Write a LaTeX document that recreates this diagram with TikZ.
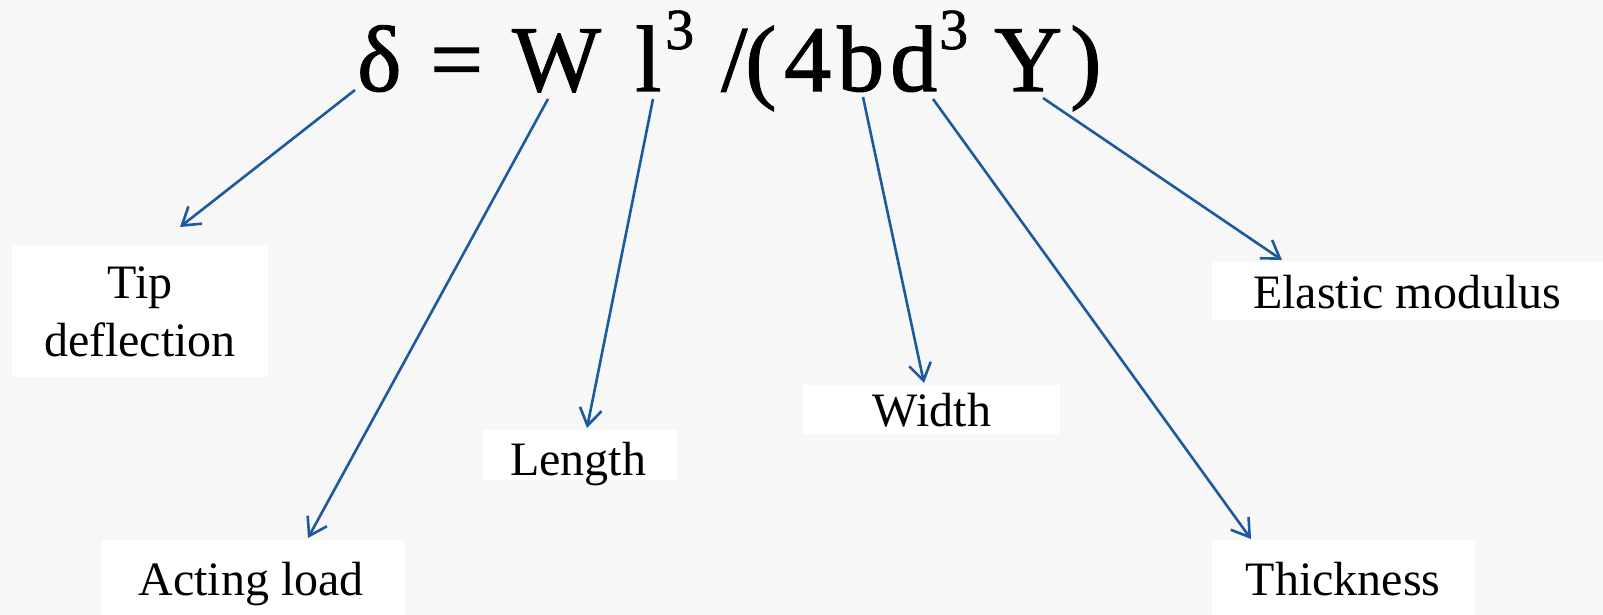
\documentclass[tikz,border=0pt]{standalone}
\usepackage{fontspec}
\setmainfont{Liberation Serif}
\newfontfamily\formfont[FakeBold=1.2]{Liberation Serif}
\usetikzlibrary{arrows.meta}
\definecolor{arrowblue}{RGB}{28,89,157}
\definecolor{bggray}{RGB}{247,247,247}
\begin{document}
\begin{tikzpicture}[x=1pt,y=-1pt,
  sym/.style={anchor=base west, inner sep=0pt, font=\formfont\fontsize{94}{94}\selectfont},
  supnum/.style={anchor=base west, inner sep=0pt, font=\formfont\fontsize{58}{58}\selectfont},
  lbl/.style={anchor=base, inner sep=0pt, font=\fontsize{48}{58}\selectfont},
  whitebox/.style={fill=white},
  arr/.style={draw=arrowblue, line width=2.6pt, -{Straight Barb[length=17pt,width=22pt]}}]
\useasboundingbox (0,0) rectangle (1603,615);
\fill[bggray] (0,0) rectangle (1603,615);

% label boxes
\fill[whitebox] (12,245) rectangle (268,377);
\fill[whitebox] (1212,262) rectangle (1603,320);
\fill[whitebox] (803,385) rectangle (1060,434);
\fill[whitebox] (483,430) rectangle (677,480);
\fill[whitebox] (102,540) rectangle (405,615);
\fill[whitebox] (1212,540) rectangle (1475,615);

% formula
\node[sym] (delta) at (357,91) {δ};
\node[sym] (eq) at (430,91) {=};
\node[sym] (W) at (512,91) {W};
\node[sym] (l) at (635,91) {l};
\node[supnum] (s1) at (665,49) {3};
\node[sym] (slash) at (721,91) {/};
\node[sym] (lpar) at (745,91) {(};
\node[sym] (four) at (784,91) {4};
\node[sym] (b) at (837,91) {b};
\node[sym] (d) at (890,91) {d};
\node[supnum] (s2) at (939,49) {3};
\node[sym] (Y) at (994,91) {Y};
\node[sym] (rpar) at (1070,91) {)};

% labels
\node[lbl] (tip1) at (140,298) {Tip};
\node[lbl] (tip2) at (140,356) {deflection};
\node[lbl] (elastic) at (1407,308) {Elastic modulus};
\node[lbl] (width) at (932,426) {Width};
\node[lbl] (length) at (578,475) {Length};
\node[lbl] (acting) at (251,595) {Acting load};
\node[lbl] (thick) at (1343,595) {Thickness};

% connector ends
\coordinate (aDelta) at (355,90);
\coordinate (aW) at (548,99);
\coordinate (al) at (653,99);
\coordinate (ab) at (863,97);
\coordinate (ad) at (933,99);
\coordinate (aY) at (1043,98);
\coordinate (eTip) at (180,227);
\coordinate (eAct) at (308,538);
\coordinate (eLen) at (587,428);
\coordinate (eWid) at (924,383);
\coordinate (eThk) at (1251,539);
\coordinate (eEla) at (1282,260);

\draw[arr] (aDelta) -- (eTip);
\draw[arr] (aW) -- (eAct);
\draw[arr] (al) -- (eLen);
\draw[arr] (ab) -- (eWid);
\draw[arr] (ad) -- (eThk);
\draw[arr] (aY) -- (eEla);
\end{tikzpicture}
\end{document}
